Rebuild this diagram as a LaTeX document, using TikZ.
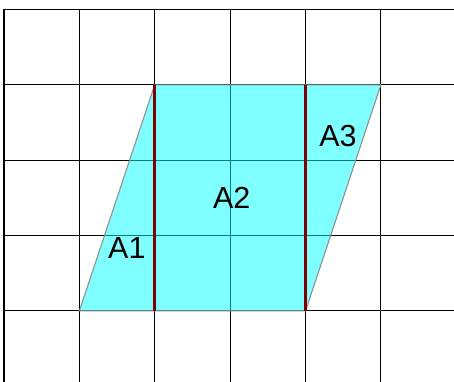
\documentclass[tikz,border=0pt]{standalone}
\usepackage{fontspec}
\setmainfont{Liberation Sans}
\usepackage{xcolor}
\usetikzlibrary{positioning}
\definecolor{Sheet}{HTML}{00FFFF}
\definecolor{Cut}{HTML}{800000}
\definecolor{Edge}{HTML}{8C8C8C}

\begin{document}
\begin{tikzpicture}[
  x=1cm,
  y=1cm,
  gridline/.style={black,line width=0.4pt},
  sheet/.style={fill=Sheet,fill opacity=0.5,draw=Edge,draw opacity=1,line width=0.4pt},
  cutline/.style={Cut,line width=1.15pt},
  area/.style={font=\fontsize{11.5}{13}\selectfont,text=black,inner sep=0pt}
]
  \useasboundingbox (-0.053,0.058) rectangle (5.97,5.125);
  \clip (-0.053,0.058) rectangle (5.97,5.125);

  % Grid
  \foreach \i in {0,...,5} {\draw[gridline] (\i,0) -- (\i,5);}
  \foreach \j in {1,...,5} {\draw[gridline] (0,\j) -- (6,\j);}

  % Parallelogram
  \coordinate (p1) at (1,1);
  \coordinate (p2) at (4,1);
  \coordinate (p3) at (5,4);
  \coordinate (p4) at (2,4);
  \coordinate (c1) at (2,1);
  \coordinate (c2) at (4,4);
  \draw[sheet] (p1) -- (p2) -- (p3) -- (p4) -- cycle;
  \draw[cutline] (c1) -- (p4);
  \draw[cutline] (p2) -- (c2);

  % Labels
  \node[area] (a1) at (1.63,1.84) {A1};
  \node[area] (a2) at (3.02,2.50) {A2};
  \node[area] (a3) at (4.43,3.32) {A3};
\end{tikzpicture}
\end{document}
